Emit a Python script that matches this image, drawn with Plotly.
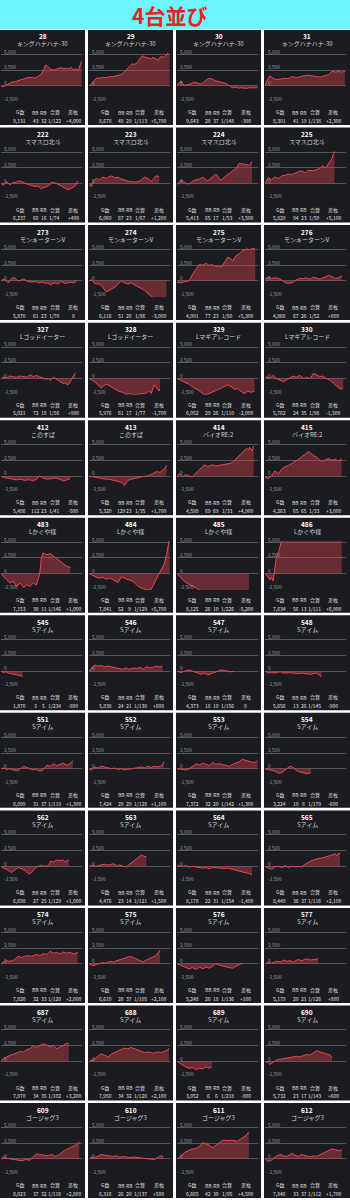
import plotly.graph_objects as go

# ---------------- data ----------------
title_text = "4台並び"
numbers = [28, 29, 30, 31, 222, 223, 224, 225, 273, 274, 275, 276,
           327, 328, 329, 330, 412, 413, 414, 415, 483, 484, 485, 486,
           545, 546, 547, 548, 551, 552, 553, 554, 562, 563, 564, 565,
           574, 575, 576, 577, 687, 688, 689, 690, 609, 610, 611, 612]
names = ["キングハナハナ-30"] * 4 + ["スマスロ北斗"] * 4 + ["モンキーターンV"] * 4 + \
        ["Lゴッドイーター", "Lゴッドイーター", "Lマギアレコード", "Lマギアレコード",
         "このすば", "このすば", "バイオRE:2", "バイオRE:2"] + ["Lかぐや様"] * 4 + \
        ["Sアイム"] * 20 + ["ゴージャグ3"] * 4
games = ["9,131", "8,678", "9,643", "8,301", "6,237", "6,060", "5,413", "5,829",
         "5,870", "6,116", "4,991", "4,866", "5,021", "5,976", "6,052", "5,762",
         "5,486", "5,320", "4,598", "4,263", "7,153", "7,841", "8,125", "7,634",
         "1,870", "5,838", "4,373", "5,656", "8,099", "7,424", "7,372", "3,224",
         "6,698", "4,476", "8,178", "8,449", "7,820", "6,610", "5,248", "5,179",
         "7,070", "7,950", "3,052", "5,732", "8,023", "6,316", "6,665", "7,846"]
bb = [43, 48, 28, 41, 66, 67, 65, 94, 61, 51, 77, 67, 72, 61, 29, 24,
      112, 129, 69, 65, 38, 52, 26, 56, 3, 24, 18, 13, 31, 29, 32, 10,
      27, 23, 22, 36, 32, 26, 20, 20, 34, 34, 6, 23, 37, 26, 42, 33]
rb = [32, 29, 37, 19, 16, 23, 17, 23, 23, 20, 23, 26, 18, 17, 26, 35,
      23, 23, 69, 65, 11, 9, 10, 13, 5, 21, 10, 26, 37, 29, 20, 8,
      25, 14, 31, 37, 33, 37, 18, 21, 35, 32, 6, 17, 32, 20, 30, 37]
combined = ["1/122", "1/113", "1/148", "1/138", "1/74", "1/67", "1/53", "1/50",
            "1/70", "1/86", "1/50", "1/52", "1/56", "1/77", "1/110", "1/98",
            "1/41", "1/35", "1/33", "1/33", "1/146", "1/129", "1/226", "1/111",
            "1/234", "1/130", "1/156", "1/145", "1/119", "1/128", "1/142", "1/179",
            "1/129", "1/121", "1/154", "1/116", "1/120", "1/105", "1/136", "1/126",
            "1/102", "1/120", "1/218", "1/143", "1/116", "1/137", "1/95", "1/112"]
diff = ["+4,000", "+5,700", "-300", "+2,300", "+400", "+1,200", "+3,500", "+5,100",
        "0", "-3,000", "+5,300", "+800", "+900", "-1,700", "-2,000", "-1,500",
        "-500", "+1,700", "+4,900", "+3,000", "+1,000", "+5,700", "-5,200", "+6,900",
        "-800", "+800", "0", "-900", "+1,300", "+1,100", "+1,300", "-600",
        "+1,000", "+1,500", "-1,400", "+2,100", "+2,000", "+2,100", "+100", "+800",
        "+3,200", "+2,100", "-900", "+600", "+2,800", "+500", "+4,500", "+1,700"]
stat_headers = ["G数", "BB", "RB", "合算", "差枚"]
y_ticks = [5000, 2500, 0, -2500]
y_tick_labels = ["5,000", "2,500", "0", "-2,500"]

# series: (progress %, coins)
s28 = [(0,0),(3,-150),(6,100),(10,400),(14,600),(18,700),(22,900),(26,1100),(30,1200),(34,1350),(38,1300),(42,1250),(46,1500),(50,1900),(53,2600),(55,3300),(57,3200),(60,2800),(63,2600),(66,2500),(69,2700),(72,2800),(75,2900),(78,2700),(81,2800),(84,2700),(87,2900),(90,2600),(93,2700),(96,2500),(98,3300),(100,4000)]
s29 = [(0,0),(3,300),(7,900),(10,1300),(13,1200),(17,1350),(20,1300),(23,1400),(26,1450),(30,1500),(33,1600),(36,1700),(40,1800),(43,2100),(46,2500),(50,3200),(53,3500),(56,3400),(60,3700),(63,4300),(66,4800),(69,4600),(73,4500),(76,4300),(79,4500),(83,4300),(86,4100),(89,4700),(93,4500),(96,5000),(100,5500)]
s30 = [(0,150),(3,500),(5,800),(7,400),(9,100),(13,200),(17,300),(21,600),(24,500),(27,400),(30,300),(34,700),(38,1100),(41,1200),(44,1000),(48,800),(51,700),(55,600),(58,500),(61,400),(65,0),(69,-300),(73,-200),(76,-350),(79,-300),(83,-400),(86,-400),(90,-300),(94,-300),(97,-400),(100,-300)]
s31 = [(0,0),(3,1000),(6,1600),(10,1200),(14,1000),(17,1100),(20,1100),(25,1200),(28,1150),(31,1300),(33,1500),(36,1400),(39,1300),(42,1400),(45,1500),(49,1600),(52,1700),(56,1650),(60,1600),(64,1500),(68,1400),(71,1500),(74,1600),(77,1700),(79,1800),(81,2100),(83,2300),(87,2200),(91,2300),(95,2200),(99,2300)]
s222 = [(0,0),(3,-300),(7,300),(11,-200),(15,100),(19,200),(21,400),(26,300),(30,0),(33,-150),(36,-300),(39,-350),(42,-500),(46,-400),(50,-900),(52,-700),(57,-500),(61,-200),(63,200),(66,100),(69,0),(73,-300),(76,-500),(79,-700),(83,-1000),(86,-850),(88,-700),(92,-400),(95,400)]
s223 = [(0,-200),(3,-500),(5,300),(9,800),(13,600),(17,1000),(21,800),(25,1000),(28,1200),(32,900),(36,1000),(40,700),(44,500),(47,400),(50,300),(54,250),(57,200),(60,300),(63,400),(65,600),(69,1000),(73,800),(77,300),(79,600),(83,1200),(87,1100)]
s224 = [(0,-200),(2,100),(5,500),(9,200),(13,-100),(17,100),(21,500),(25,600),(28,700),(32,1000),(35,700),(38,400),(41,700),(44,1000),(48,1500),(52,900),(54,500),(57,800),(59,1000),(63,1500),(66,1800),(69,2000),(71,2200),(73,2300),(75,2700),(77,3200),(81,3100),(85,3000),(90,2900),(93,3500)]
s225 = [(0,0),(4,900),(8,600),(12,1000),(17,800),(21,1200),(25,1300),(29,1500),(33,1400),(36,1600),(39,1800),(42,1900),(45,2000),(50,1700),(54,2100),(57,2000),(60,2000),(64,2200),(68,2400),(72,2800),(74,2500),(76,2600),(79,3300),(83,4000),(86,5100)]
s273 = [(0,0),(3,300),(6,100),(9,-300),(12,200),(15,600),(19,300),(21,0),(24,100),(28,300),(32,0),(35,-100),(38,-200),(42,-100),(45,-200),(48,-300),(52,-200),(55,-400),(58,-300),(61,-600),(64,-400),(67,-300),(71,-500),(73,-200),(75,-100),(79,-400),(82,-300),(86,-200),(90,-300),(94,0)]
s274 = [(0,0),(3,200),(7,-400),(10,-400),(13,-500),(17,-1000),(21,-1700),(24,-1600),(26,-1400),(29,-1200),(32,-1000),(35,-600),(38,-200),(40,0),(44,-300),(48,-500),(52,-300),(55,-500),(59,-800),(63,-1000),(66,-1200),(69,-1500),(73,-2000),(77,-2500),(81,-2800),(88,-3000),(96,-3000)]
s275 = [(0,-200),(5,-300),(9,-100),(15,0),(19,1000),(24,2000),(28,2700),(32,2500),(36,2800),(40,2500),(44,2600),(48,2300),(52,2400),(55,2200),(59,3000),(63,3800),(67,3500),(69,3200),(73,4000),(77,4300),(81,4800),(86,5100),(90,5000),(94,5100),(97,5300)]
s276 = [(0,300),(4,600),(8,400),(12,500),(16,400),(19,300),(22,0),(25,-300),(29,-400),(32,-300),(35,-200),(39,200),(43,400),(47,350),(50,500),(53,400),(56,300),(60,600),(64,400),(68,300),(72,500),(76,700),(79,900),(83,700),(87,400),(91,500),(95,800)]
s327 = [(0,0),(3,200),(7,100),(11,400),(15,300),(19,200),(24,400),(28,300),(32,200),(36,600),(40,300),(44,500),(48,200),(52,100),(55,-100),(59,0),(61,-300),(65,200),(69,-100),(73,-400),(77,-800),(79,-700),(83,-1000),(86,-500),(90,400),(92,900)]
s328 = [(0,0),(3,-200),(7,-500),(11,-1000),(15,-1500),(18,-1200),(21,-900),(26,-1200),(30,-1500),(33,-1700),(36,-2000),(42,-2200),(46,-2500),(50,-2400),(55,-2600),(59,-2500),(63,-2500),(67,-2400),(71,-2300),(75,-2000),(77,-2400),(81,-1000),(84,-1500),(87,-2000),(88,-1700)]
s329 = [(0,0),(5,-400),(8,-500),(11,-700),(15,-900),(18,-1200),(21,-1500),(26,-1800),(30,-2200),(34,-2600),(38,-2500),(42,-2300),(46,-2000),(50,-1800),(55,-1500),(59,-1200),(63,-1000),(67,-1300),(71,-1700),(75,-1600),(79,-2000),(83,-2400),(88,-2000),(92,-2200),(96,-2000)]
s330 = [(0,0),(2,300),(6,0),(10,500),(14,0),(19,-300),(23,-500),(27,-200),(31,100),(35,400),(39,200),(43,500),(48,0),(52,200),(56,0),(60,800),(64,600),(68,300),(72,400),(76,0),(81,-300),(85,-800),(89,-1200),(93,-1700),(97,-1500)]
s412 = [(0,0),(3,-200),(7,-300),(10,-400),(13,-500),(16,-500),(19,-600),(24,-500),(27,-600),(30,-700),(33,-600),(36,-600),(40,-800),(44,-500),(48,0),(52,-300),(57,-500),(60,-400),(63,-400),(67,-300),(70,-400),(73,-500),(77,-800),(81,-600),(86,-400)]
s413 = [(0,0),(4,-100),(9,-200),(12,-250),(15,-400),(18,-400),(21,-500),(25,-500),(28,-600),(31,-650),(34,-800),(37,-850),(40,-1000),(44,-1500),(48,-700),(52,-500),(55,-400),(59,-300),(62,-200),(65,-100),(68,-50),(71,0),(75,100),(79,400),(83,700),(88,600),(92,1000),(94,1200),(96,1700)]
s414 = [(0,-200),(3,400),(7,-100),(11,200),(15,0),(19,-100),(24,500),(27,900),(30,1200),(34,1800),(38,1500),(41,1700),(44,1800),(48,1600),(52,1700),(56,1700),(59,1800),(62,1900),(65,2000),(69,2200),(72,2600),(75,3000),(78,3400),(81,3800),(86,4400),(89,4200),(90,4600),(93,4000),(95,4800)]
s415 = [(0,-200),(4,-400),(8,0),(12,800),(17,400),(21,1200),(25,1500),(28,1600),(31,1800),(34,2100),(37,2300),(40,2500),(43,2800),(47,3200),(50,3500),(54,3900),(58,3500),(62,3200),(66,2800),(70,2300),(74,2500),(77,2700),(79,2800),(83,2500),(87,2700),(91,2400),(95,2800)]
s483 = [(0,0),(3,-500),(7,-1000),(11,-1500),(15,-1200),(19,-2000),(24,-1500),(28,-2200),(32,-1800),(36,-2000),(40,-1500),(44,-1800),(46,-1000),(48,0),(50,2500),(52,3300),(55,3100),(57,3000),(61,3200),(65,2800),(69,2300),(73,1900),(77,1600),(81,1200),(83,1100),(86,1000)]
s484 = [(0,0),(3,-200),(7,-500),(10,-600),(13,-700),(17,-600),(21,-900),(26,-700),(30,-1000),(33,-1200),(36,-1400),(40,-500),(44,-800),(47,-900),(50,-1000),(55,-1300),(59,-1800),(63,-2200),(67,-2400),(70,-2500),(73,-2600),(77,-2500),(81,-1500),(86,-500),(90,500),(93,1500),(96,3000),(99,5000),(100,5700)]
s485 = [(0,0),(5,-800),(8,-1100),(11,-1400),(14,-1600),(17,-1800),(21,-2000),(24,-2200),(28,-2600),(32,-3500),(40,-4000),(52,-4500),(69,-5000),(89,-5200)]
s486 = [(0,0),(4,-500),(6,-1000),(8,-600),(10,-1200),(12,1000),(14,2500),(17,3500),(20,5000),(23,5800),(41,6200),(62,6500),(83,6800),(95,6900)]
s545 = [(0,0),(3,-200),(6,-100),(9,-300),(13,-400),(17,-500),(21,-600),(24,-650),(27,-800)]
s546 = [(0,0),(3,500),(7,1000),(11,800),(15,900),(19,700),(24,800),(27,700),(30,600),(34,500),(38,400),(42,300),(46,500),(50,300),(55,500),(59,400),(63,600),(67,300),(71,700),(75,500),(79,600),(83,800),(88,700),(91,800)]
s547 = [(0,0),(5,-200),(8,-50),(11,100),(15,200),(19,0),(22,-100),(26,-300),(30,-500),(34,-300),(38,-600),(42,-400),(46,-300),(50,0),(55,200),(59,100),(63,0),(67,-100),(71,0)]
s548 = [(0,0),(4,-300),(8,-200),(12,-300),(15,-200),(19,-100),(23,-300),(26,-250),(29,-200),(32,-250),(35,-300),(38,-350),(41,-400),(45,-300),(50,-400),(53,-450),(56,-500),(60,-400),(64,-300),(68,-700),(70,-900)]
s551 = [(0,0),(3,100),(7,-100),(11,0),(15,-200),(18,-250),(21,-300),(25,100),(28,400),(32,200),(36,0),(40,-200),(44,-100),(48,-400),(52,-200),(57,600),(61,400),(65,800),(69,500),(73,700),(77,900),(81,600),(86,800),(89,1300)]
s552 = [(0,0),(3,-200),(7,300),(11,100),(15,400),(19,300),(24,200),(28,0),(32,100),(36,-100),(40,0),(44,-200),(48,-100),(51,-50),(55,0),(59,100),(62,200),(65,300),(69,100),(73,400),(77,200),(81,400),(86,300),(90,500),(93,1100)]
s553 = [(0,0),(5,-100),(11,-200),(15,0),(19,300),(24,800),(28,600),(32,900),(36,700),(40,500),(44,1000),(48,700),(52,800),(57,600),(61,500),(65,400),(69,700),(73,900),(77,1100),(81,1500),(86,1300),(90,1200),(94,1000),(98,1100),(100,1300)]
s554 = [(0,0),(4,-100),(10,-300),(14,-500),(17,-700),(21,-600),(25,-200),(28,100),(31,400),(35,200),(39,-300),(43,-500),(48,-600),(52,-800),(57,-600)]
s562 = [(0,0),(3,-300),(7,-500),(10,-800),(13,-1000),(17,-600),(21,-200),(26,-400),(30,-700),(34,-1200),(38,-1000),(42,-300),(46,0),(50,100),(55,0),(59,100),(61,800),(65,700),(69,1000),(73,900),(77,1000),(79,700),(82,900),(84,1000)]
s563 = [(0,0),(5,100),(9,0),(13,200),(16,250),(19,300),(24,200),(27,300),(30,400),(34,100),(38,200),(42,0),(46,-100),(50,300),(55,800),(59,1200),(63,1500),(65,1800),(68,1600),(71,1500)]
s564 = [(0,100),(4,50),(7,0),(11,100),(15,-100),(19,0),(22,-50),(26,-100),(29,-200),(32,-300),(36,-200),(40,-400),(44,-200),(47,-250),(50,-300),(53,-350),(57,-400),(60,-350),(63,-300),(66,-400),(69,-500),(72,-550),(75,-600),(78,-700),(81,-800),(86,-1000),(90,-1200),(93,-1400)]
s565 = [(0,0),(4,-300),(8,-500),(12,-100),(17,0),(21,-200),(25,100),(29,-200),(33,0),(37,-100),(41,0),(45,-100),(50,300),(53,600),(56,800),(60,1000),(64,1200),(67,1250),(70,1300),(73,1400),(76,1600),(80,1700),(83,1800),(87,2000),(89,1600),(91,2100),(93,2000)]
s574 = [(0,0),(3,300),(7,500),(11,400),(14,500),(17,700),(21,1200),(26,1000),(29,1200),(32,1300),(35,1250),(38,1200),(41,1350),(44,1500),(48,1300),(52,1600),(57,1500),(61,2000),(65,1700),(69,1800),(73,1600),(77,1900),(81,1700),(86,1800),(90,1600),(95,1800)]
s575 = [(0,0),(5,-300),(9,-100),(13,0),(17,200),(21,100),(26,400),(30,300),(34,500),(38,700),(41,800),(44,900),(47,1000),(50,1200),(55,1000),(59,800),(63,600),(67,300),(71,600),(75,800),(79,1000),(83,1300),(87,2000),(88,2200)]
s576 = [(0,0),(5,-300),(8,-450),(11,-600),(15,-800),(19,-600),(24,-900),(28,-500),(32,-800),(36,-500),(40,-700),(44,-400),(48,0),(52,-200),(57,-300),(61,-500),(65,-600),(69,-700),(73,-400),(77,-200),(81,100)]
s577 = [(0,0),(4,200),(8,100),(11,250),(14,400),(19,300),(23,600),(27,400),(31,500),(35,300),(38,500),(41,700),(45,500),(48,650),(52,800),(56,600),(60,700),(63,750),(66,800)]
s687 = [(0,0),(3,500),(7,700),(11,1000),(14,1100),(17,1200),(21,1400),(24,1600),(28,1500),(32,1900),(36,2000),(40,2500),(44,2200),(48,2500),(52,2800),(57,2600),(61,2300),(65,2500),(69,2000),(73,2300),(77,2500),(81,2900),(84,2800)]
s688 = [(0,0),(5,200),(8,500),(11,800),(15,1200),(19,1000),(24,700),(28,1200),(32,1500),(35,1600),(38,1800),(41,1950),(44,2100),(48,2000),(52,2200),(57,2000),(60,1800),(63,1600),(66,1500),(69,1400),(72,1450),(75,1500),(79,1300),(83,1400),(86,1500),(90,1400),(94,1600),(97,1800),(99,2100)]
s689 = [(0,0),(3,-200),(7,-600),(11,-900),(15,-1100),(19,-1000),(24,-1300),(28,-1100),(32,-1200),(36,-900),(40,-1100),(43,-900)]
s690 = [(0,0),(4,-200),(6,-500),(10,-100),(14,200),(17,300),(21,400),(24,450),(27,500),(30,600),(33,700),(36,750),(39,800),(43,700),(48,900),(52,1100),(56,1000),(60,1400),(64,1700),(68,1500),(72,1300),(76,1200),(81,1000),(83,600)]
s609 = [(0,0),(3,300),(7,100),(10,50),(13,0),(17,-100),(21,-200),(26,-300),(30,-100),(33,-150),(36,-200),(40,400),(44,800),(48,700),(52,600),(57,500),(60,600),(63,700),(67,400),(71,600),(74,900),(77,1200),(81,1500),(86,1800),(90,2000),(94,2300),(97,2700)]
s610 = [(0,0),(3,300),(7,200),(11,500),(15,700),(19,600),(24,500),(27,450),(30,400),(34,500),(38,300),(41,350),(44,400),(47,300),(50,200),(55,300),(59,250),(63,200),(67,150),(71,100),(74,50),(77,0),(81,-100),(86,300),(88,500),(92,400)]
s611 = [(0,0),(5,400),(9,1000),(13,1300),(17,1500),(21,1600),(24,1700),(28,2000),(32,2600),(36,2400),(40,2200),(44,1800),(48,2200),(52,2500),(57,3000),(60,2950),(63,2900),(66,3000),(69,3000),(72,2900),(75,2800),(79,3200),(83,3500),(86,3800),(89,4300)]
s612 = [(0,0),(4,-400),(8,-200),(12,300),(15,500),(19,700),(23,500),(27,400),(30,600),(33,900),(37,600),(41,400),(45,700),(48,600),(52,500),(56,300),(60,500),(64,400),(67,600),(70,800),(73,1000),(76,1200),(79,1400),(83,1600),(86,1500),(89,1400),(93,1300),(95,1500)]

series = [s28, s29, s30, s31, s222, s223, s224, s225, s273, s274, s275, s276,
          s327, s328, s329, s330, s412, s413, s414, s415, s483, s484, s485, s486,
          s545, s546, s547, s548, s551, s552, s553, s554, s562, s563, s564, s565,
          s574, s575, s576, s577, s687, s688, s689, s690, s609, s610, s611, s612]

# ---------------- layout ----------------
W, H = 350, 1200
FONT = "Noto Sans CJK JP"
COL_L = [0, 88, 176, 264]
COL_W = [85, 85, 85, 86]
ROW0, PITCH, PANEL_H = 30, 97.55, 95
Y_RANGE = [-2600, 5250]
PLOT_TOP, PLOT_BOT = 22.9, 72.2
STAT_X = [17, 33, 41, 52, 70.5]
STAT_OFF = [2.5, 0, -1, -1.5]
BG = "#1b1c21"
GRID = "#54575e"
LINE = "#e8464f"
FILL = "rgba(205,64,74,0.45)"


def fx(x):
    return x / W


def fy(y):
    return 1 - y / H


def yline(T, v):
    return T + PLOT_TOP + (Y_RANGE[1] - v) / (Y_RANGE[1] - Y_RANGE[0]) * (PLOT_BOT - PLOT_TOP)


fig = go.Figure()
shapes = [dict(type="rect", xref="paper", yref="paper", x0=0, x1=1, y0=fy(29.5), y1=1,
               fillcolor="#6ef4fc", line=dict(width=0), layer="below")]
ann = [dict(x=fx(169), y=fy(15), xref="paper", yref="paper", text="<b>" + title_text + "</b>",
            showarrow=False, font=dict(family=FONT, size=21, color="#e8221e"),
            xanchor="center", yanchor="middle")]
layout_axes = {}

for i, num in enumerate(numbers):
    r, c = divmod(i, 4)
    L = COL_L[c]
    T = ROW0 + r * PITCH
    k = i + 1
    sfx = "" if k == 1 else str(k)
    shapes.append(dict(type="rect", xref="paper", yref="paper", x0=fx(L), x1=fx(L + COL_W[c]),
                       y0=fy(T + PANEL_H), y1=fy(T), fillcolor=BG, line=dict(width=0), layer="below"))
    layout_axes["xaxis" + sfx] = dict(domain=[fx(L + 1), fx(L + 81.7)], range=[0, 100], visible=False,
                                      fixedrange=True, anchor="y" + sfx)
    layout_axes["yaxis" + sfx] = dict(domain=[fy(T + PLOT_BOT), fy(T + PLOT_TOP)], range=Y_RANGE,
                                      tickvals=y_ticks, showticklabels=False, showgrid=True,
                                      gridcolor=GRID, gridwidth=1, zeroline=False, showline=False,
                                      ticks="", fixedrange=True, anchor="x" + sfx)
    pts = series[i]
    fig.add_trace(go.Scatter(x=[p[0] for p in pts], y=[p[1] for p in pts], mode="lines",
                             line=dict(color=LINE, width=1), fill="tozeroy", fillcolor=FILL,
                             xaxis="x" + sfx, yaxis="y" + sfx, showlegend=False, hoverinfo="skip"))
    cx = L + COL_W[c] / 2
    ann.append(dict(x=fx(cx), y=fy(T + 6.5), text="<b>" + str(num) + "</b>",
                    font=dict(family=FONT, size=6.5, color="#ffffff")))
    ann.append(dict(x=fx(cx), y=fy(T + 14), text=names[i],
                    font=dict(family=FONT, size=6, color="#d2d2d2")))
    for v, lab in zip(y_ticks, y_tick_labels):
        ann.append(dict(x=fx(L + 2.5), y=fy(yline(T, v) - 3.2), text=lab, xanchor="left",
                        font=dict(family=FONT, size=4.8, color="#9a9ca3")))
    vals = [games[i], str(bb[i]), str(rb[i]), combined[i], diff[i]]
    for j in range(5):
        sx = L + STAT_X[j] + STAT_OFF[c]
        ann.append(dict(x=fx(sx), y=fy(T + 82), text=stat_headers[j],
                        font=dict(family=FONT, size=5, color="#dcdcdc")))
        ann.append(dict(x=fx(sx), y=fy(T + 90.3), text=vals[j],
                        font=dict(family=FONT, size=5, color="#e4e4e4")))

for a in ann:
    a.setdefault("xref", "paper")
    a.setdefault("yref", "paper")
    a.setdefault("showarrow", False)
    a.setdefault("xanchor", "center")
    a.setdefault("yanchor", "middle")
    a.setdefault("borderpad", 0)

fig.update_layout(width=W, height=H, margin=dict(l=0, r=0, t=0, b=0),
                  paper_bgcolor="#ffffff", plot_bgcolor="rgba(0,0,0,0)",
                  shapes=shapes, annotations=ann, showlegend=False, **layout_axes)

fig.write_html("out.html", config={"displayModeBar": False})
